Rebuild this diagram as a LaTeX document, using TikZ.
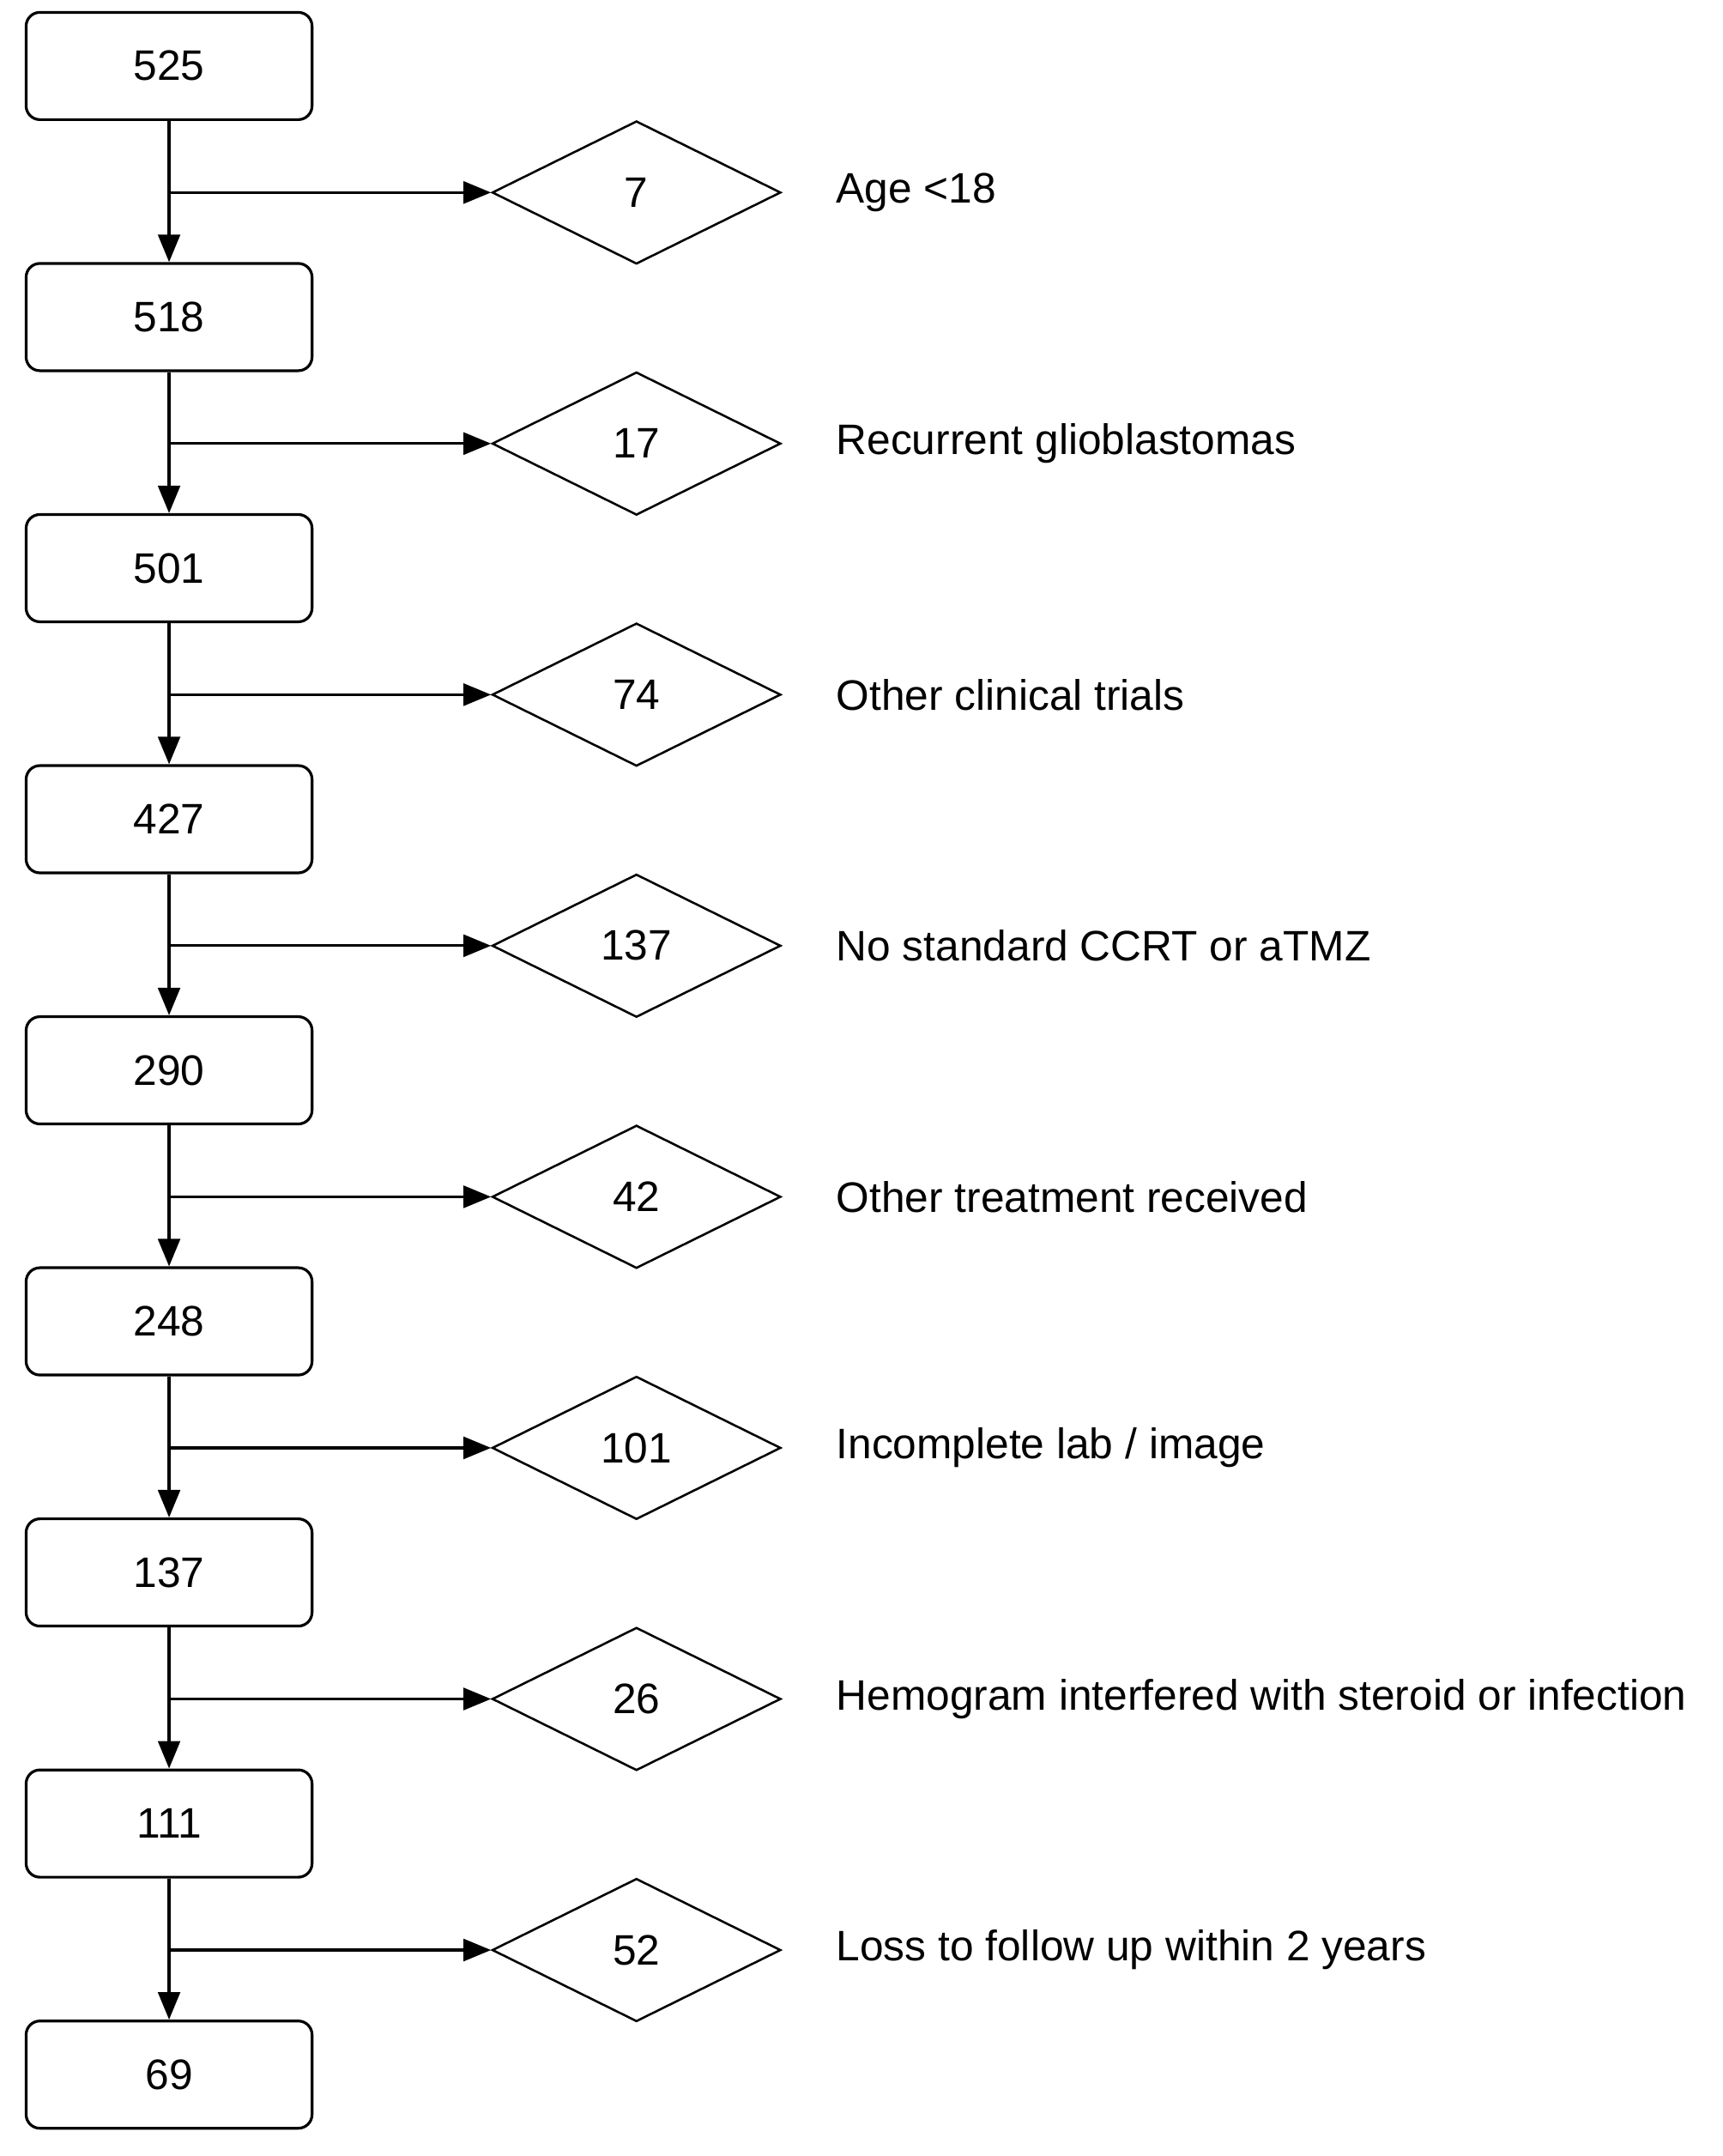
\documentclass[tikz,border=0pt]{standalone}
\usepackage{fontspec}
\setmainfont{Liberation Sans}
\usetikzlibrary{shapes.geometric,arrows.meta}
\begin{document}
\begin{tikzpicture}[x=0.5pt,y=-0.5pt,
  box/.style={draw,line width=1pt,rounded corners=5pt,minimum width=104pt,minimum height=39pt,inner sep=0pt,font=\fontsize{15.5}{18}\selectfont},
  dia/.style={draw,line width=0.8pt,diamond,minimum width=105pt,minimum height=52pt,inner sep=0pt,font=\fontsize{15.5}{18}\selectfont},
  lab/.style={anchor=west,inner sep=0pt,font=\fontsize{15.5}{18}\selectfont},
  arr/.style={line width=1pt,-{Triangle[length=10pt,width=8pt]}}]
\useasboundingbox (0,0) rectangle (1253,1568);
\def\step{182.6}
\foreach \v [count=\i from 0] in {525,518,501,427,290,248,137,111,69}{
  \node[box] (b\i) at (123,{48+\i*\step}) {\v};
}
\foreach \v/\t [count=\i from 0] in {7/{Age <18},17/{Recurrent glioblastomas},74/{Other clinical trials},137/{No standard CCRT or aTMZ},42/{Other treatment received},101/{Incomplete lab / image},26/{Hemogram interfered with steroid or infection},52/{Loss to follow up within 2 years}}{
  \node[dia] (d\i) at (463,{140+\i*\step}) {\v};
  \node[lab] (l\i) at (608,{140+\i*\step}) {\t};
  \coordinate (j\i) at (123,{140+\i*\step});
  \pgfmathtruncatemacro\n{\i+1}
  \draw[arr] (b\i) -- (b\n);
  \draw[arr] (j\i) -- (d\i.west);
}
\end{tikzpicture}
\end{document}
